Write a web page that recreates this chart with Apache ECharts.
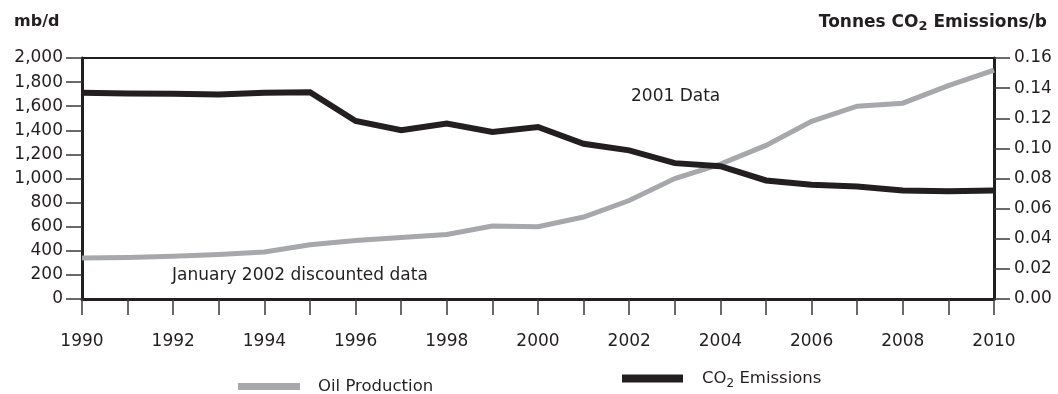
<!DOCTYPE html>
<html>
<head>
<meta charset="utf-8">
<script src="https://cdn.jsdelivr.net/npm/echarts@6/dist/echarts.min.js"></script>
<style>
  html, body { margin: 0; padding: 0; background: #fff; }
  #chart { width: 1058px; height: 394px; }
</style>
</head>
<body>
<div id="chart"></div>
<script>
// Years on the horizontal axis
const years = ['1990','1991','1992','1993','1994','1995','1996','1997','1998','1999','2000',
               '2001','2002','2003','2004','2005','2006','2007','2008','2009','2010'];

// Oil production, mb/d (left axis)
const oilProduction = [340, 345, 355, 370, 390, 450, 485, 510, 535, 605, 600,
                       680, 817, 1000, 1120, 1275, 1475, 1600, 1625, 1770, 1900];

// CO2 emissions, tonnes per barrel (right axis)
const co2Emissions = [0.137, 0.1365, 0.1362, 0.1358, 0.1369, 0.1373, 0.1182, 0.112, 0.1165, 0.1109, 0.1142,
                      0.1031, 0.0987, 0.0902, 0.0882, 0.0787, 0.0758, 0.0747, 0.072, 0.0716, 0.072];

// Axis ranges
const leftAxisRange = [0, 2000, 200];
const rightAxisRange = [0, 0.16, 0.02];

const FONT = 'DejaVu Sans';
const INK = '#231f20';
const GREY = '#a7a8ab';
const TICK = { color: '#3a3a3a', width: 1.5 };

const chart = echarts.init(document.getElementById('chart'), null, { renderer: 'canvas' });

chart.setOption({
  animation: false,
  backgroundColor: '#ffffff',
  textStyle: { fontFamily: FONT, color: INK },
  grid: {
    left: 82, right: 64, top: 58, bottom: 95,
    show: true, borderColor: INK, borderWidth: 2, backgroundColor: 'transparent'
  },
  title: [
    {
      text: 'mb/d', left: 9, top: 9,
      textStyle: { fontFamily: FONT, fontSize: 16, fontWeight: 'bold', color: INK }
    },
    {
      text: 'Tonnes CO{sub|2} Emissions/b', right: 6, top: 7,
      textStyle: {
        fontFamily: FONT, fontSize: 17, fontWeight: 'bold', color: INK,
        rich: { sub: { fontFamily: FONT, fontSize: 13, fontWeight: 'bold', color: INK, verticalAlign: 'bottom', padding: [8, 0, 0, 0] } }
      }
    }
  ],
  legend: [
    {
      data: ['Oil Production'], left: 233, top: 373,
      icon: 'rect', itemWidth: 62, itemHeight: 7,
      textStyle: { fontFamily: FONT, fontSize: 16.5, color: INK, padding: [0, 0, 0, 13] }
    },
    {
      data: ['CO2 Emissions'], left: 617, top: 365,
      icon: 'rect', itemWidth: 61, itemHeight: 8,
      formatter: () => 'CO{sub|2} Emissions',
      textStyle: {
        fontFamily: FONT, fontSize: 16.5, color: INK, padding: [0, 0, 0, 14],
        rich: { sub: { fontFamily: FONT, fontSize: 12, color: INK, verticalAlign: 'bottom', padding: [10, 0, 0, 0] } }
      }
    }
  ],
  xAxis: {
    type: 'category',
    data: years,
    boundaryGap: false,
    axisLine: { show: true, lineStyle: { color: INK, width: 3 } },
    axisTick: { show: true, inside: false, length: 16, interval: 0, lineStyle: TICK },
    axisLabel: { interval: 1, margin: 34, fontFamily: FONT, fontSize: 17, color: INK },
    splitLine: { show: false }
  },
  yAxis: [
    {
      type: 'value', position: 'left',
      min: leftAxisRange[0], max: leftAxisRange[1], interval: leftAxisRange[2],
      axisLine: { show: true, lineStyle: { color: INK, width: 3 } },
      axisTick: { show: true, inside: false, length: 16, lineStyle: TICK },
      axisLabel: {
        margin: 19, fontFamily: FONT, fontSize: 17, color: INK,
        formatter: v => v.toLocaleString('en-US')
      },
      splitLine: { show: false }
    },
    {
      type: 'value', position: 'right',
      min: rightAxisRange[0], max: rightAxisRange[1], interval: rightAxisRange[2],
      axisLine: { show: true, lineStyle: { color: INK, width: 3 } },
      axisTick: { show: true, inside: false, length: 16, lineStyle: TICK },
      axisLabel: {
        margin: 20, fontFamily: FONT, fontSize: 17, color: INK,
        formatter: v => v.toFixed(2)
      },
      splitLine: { show: false }
    }
  ],
  series: [
    {
      name: 'Oil Production', type: 'line', yAxisIndex: 0,
      data: oilProduction, showSymbol: false, symbol: 'none',
      lineStyle: { color: GREY, width: 5, join: 'miter' }, itemStyle: { color: GREY },
      z: 2
    },
    {
      name: 'CO2 Emissions', type: 'line', yAxisIndex: 1,
      data: co2Emissions, showSymbol: false, symbol: 'none',
      lineStyle: { color: INK, width: 6, join: 'miter' }, itemStyle: { color: INK },
      z: 3
    }
  ],
  graphic: [
    {
      type: 'text', left: 631, top: 88,
      style: { text: '2001 Data', fontFamily: FONT, fontSize: 17, fill: INK }
    },
    {
      type: 'text', left: 172, top: 267,
      style: { text: 'January 2002 discounted data', fontFamily: FONT, fontSize: 17, fill: INK }
    }
  ]
});
</script>
</body>
</html>
